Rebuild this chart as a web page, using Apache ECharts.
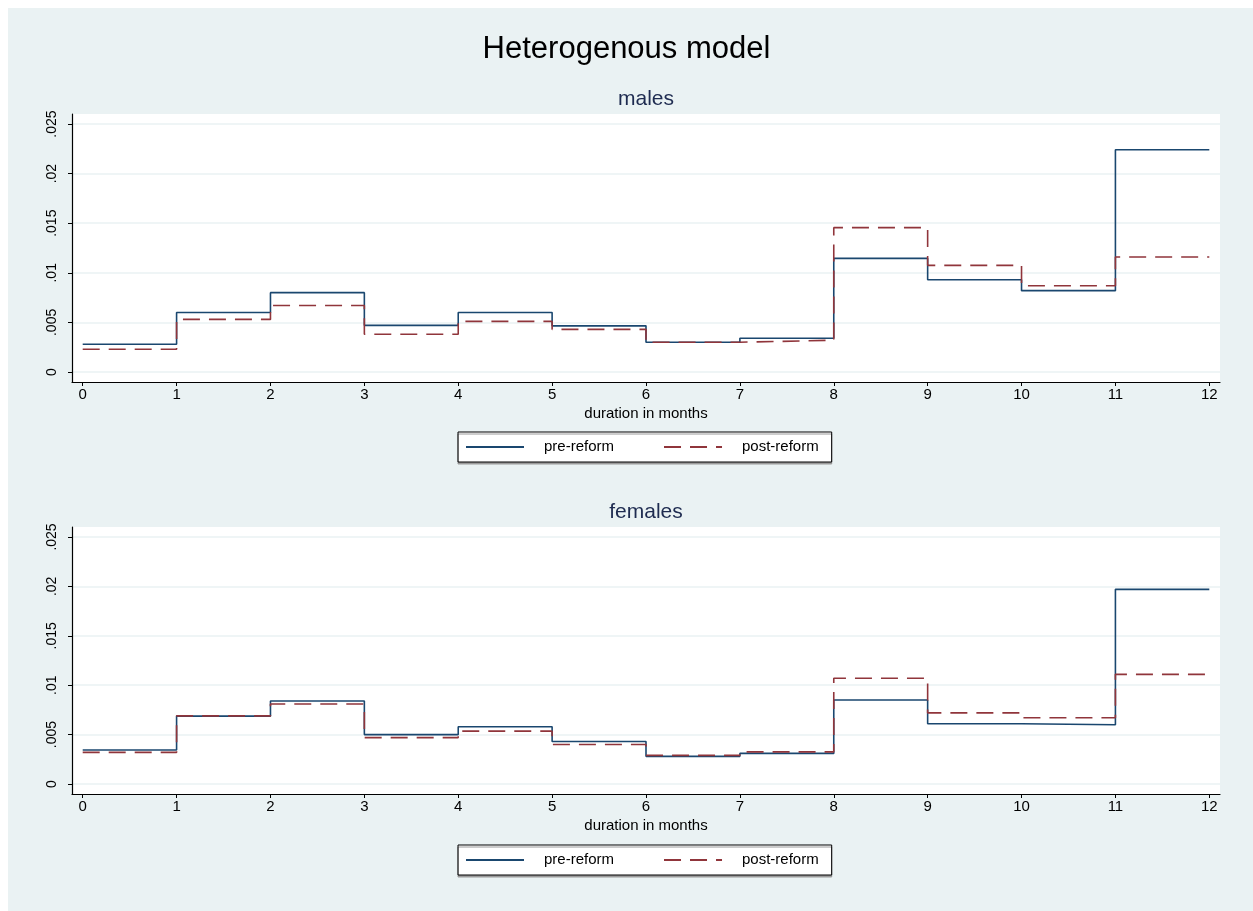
<!DOCTYPE html>
<html>
<head>
<meta charset="utf-8">
<title>Heterogenous model</title>
<script src="https://cdn.jsdelivr.net/npm/echarts@6/dist/echarts.min.js"></script>
<style>
  html, body { margin: 0; padding: 0; background: #fff; }
  #chart { width: 1253px; height: 911px; }
</style>
</head>
<body>
<div id="chart"></div>
<script>
// months 0..12, a value is the hazard for the month starting at that tick
const months = [0, 1, 2, 3, 4, 5, 6, 7, 8, 9, 10, 11, 12];
const yTicks = [0, 0.005, 0.01, 0.015, 0.02, 0.025];

const malesPre = [0.0028, 0.0060, 0.0080, 0.0047, 0.0060, 0.00465, 0.0030, 0.0034, 0.01145, 0.0093, 0.0082, 0.0224];
const malesPost = [0.0023, 0.0053, 0.0067, 0.0038, 0.0051, 0.0043, 0.0030, 0.0032, 0.01455, 0.01075, 0.0087, 0.0116];
const femalesPre = [0.00345, 0.00687, 0.0084, 0.0050, 0.0058, 0.0043, 0.0028, 0.0031, 0.0085, 0.0061, 0.0060, 0.0197];
const femalesPost = [0.0032, 0.0069, 0.0081, 0.0047, 0.00535, 0.0040, 0.0029, 0.00325, 0.0107, 0.0072, 0.0067, 0.0111];

const navy = '#1a476f';
const maroon = '#90353b';
const bg = '#eaf2f3';
const font = 'Liberation Sans, Arial, sans-serif';

// step data: each value holds until the next month, last one is carried to 12
const steps = (vals) => months.map((m, i) => [m, vals[Math.min(i, vals.length - 1)]]);

const yLabel = (v) => (v === 0 ? '0' : String(v).replace(/^0/, ''));

const makeX = (gridIndex) => ({
  type: 'value',
  gridIndex: gridIndex,
  min: -0.114,
  max: 12.114,
  name: 'duration in months',
  nameLocation: 'middle',
  nameGap: 24,
  nameTextStyle: { fontSize: 15, color: '#000', fontFamily: font },
  axisLine: { show: true, onZero: false, lineStyle: { color: '#000', width: 1.2 } },
  axisTick: { show: true, length: 4, customValues: months, lineStyle: { color: '#000' } },
  axisLabel: { customValues: months, fontSize: 15, color: '#000', margin: 5, fontFamily: font },
  splitLine: { show: false }
});

const makeY = (gridIndex) => ({
  type: 'value',
  gridIndex: gridIndex,
  min: -0.001009,
  max: 0.026009,
  axisLine: { show: true, onZero: false, lineStyle: { color: '#000', width: 1.2 } },
  axisTick: { show: true, length: 4, customValues: yTicks, lineStyle: { color: '#000' } },
  axisLabel: {
    customValues: yTicks,
    formatter: yLabel,
    rotate: 90,
    fontSize: 14,
    color: '#000',
    margin: 13,
    fontFamily: font
  },
  splitLine: { show: true, lineStyle: { color: bg, width: 1.5 } }
});

const makeLegend = (top) => ({
  data: ['pre-reform', 'post-reform'],
  left: 458,
  top: top,
  orient: 'horizontal',
  backgroundColor: '#fff',
  borderColor: '#000',
  borderWidth: 1,
  shadowColor: '#9a9a9a',
  shadowOffsetY: 2,
  shadowBlur: 0,
  padding: [6, 13, 6, 7],
  itemWidth: 58,
  itemHeight: 14,
  itemGap: 49,
  selectedMode: false,
  // hide the symbol, keep only the line sample
  itemStyle: { opacity: 0 },
  textStyle: { fontSize: 15, color: '#000', fontFamily: font, padding: [0, 0, 0, 15], lineHeight: 18 }
});

const makeSeries = (name, vals, idx, color, dashed) => ({
  name: name,
  type: 'line',
  xAxisIndex: idx,
  yAxisIndex: idx,
  step: 'end',
  symbol: 'none',
  data: steps(vals),
  lineStyle: { color: color, width: 1.6, type: dashed ? [17, 9] : 'solid' },
  itemStyle: { color: color }
});

const chart = echarts.init(document.getElementById('chart'));

const option = {
  backgroundColor: bg,
  animation: false,
  graphic: [
    { type: 'rect', left: 0, top: 0, shape: { width: 1253, height: 8 }, style: { fill: '#fff' } },
    { type: 'rect', left: 0, top: 0, shape: { width: 8, height: 911 }, style: { fill: '#fff' } }
  ],
  title: [
    {
      text: 'Heterogenous model',
      left: 'center',
      top: 34,
      padding: 0,
      textStyle: { fontSize: 31, fontWeight: 'normal', color: '#000', fontFamily: font }
    },
    {
      text: 'males',
      left: 646,
      textAlign: 'center',
      top: 89,
      padding: 0,
      textStyle: { fontSize: 21, fontWeight: 'normal', color: '#1e2b50', fontFamily: font }
    },
    {
      text: 'females',
      left: 646,
      textAlign: 'center',
      top: 502,
      padding: 0,
      textStyle: { fontSize: 21, fontWeight: 'normal', color: '#1e2b50', fontFamily: font }
    }
  ],
  legend: [makeLegend(432), makeLegend(845)],
  grid: [
    { left: 72, top: 114, width: 1148, height: 268, show: true, backgroundColor: '#fff', borderWidth: 0 },
    { left: 72, top: 527, width: 1148, height: 267, show: true, backgroundColor: '#fff', borderWidth: 0 }
  ],
  xAxis: [makeX(0), makeX(1)],
  yAxis: [makeY(0), makeY(1)],
  series: [
    makeSeries('pre-reform', malesPre, 0, navy, false),
    makeSeries('post-reform', malesPost, 0, maroon, true),
    makeSeries('pre-reform', femalesPre, 1, navy, false),
    makeSeries('post-reform', femalesPost, 1, maroon, true)
  ]
};

chart.setOption(option);
</script>
</body>
</html>
